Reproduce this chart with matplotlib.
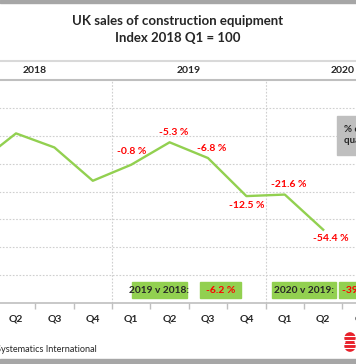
import numpy as np
import matplotlib
matplotlib.use("Agg")
import matplotlib.pyplot as plt
from matplotlib.patches import Rectangle, Circle
from matplotlib.lines import Line2D
from matplotlib.transforms import blended_transform_factory

plt.rcParams['font.family'] = ['Lato', 'DejaVu Sans']

# quarterly index, 2018 Q1 = 100
quarters = ['Q1', 'Q2', 'Q3', 'Q4'] * 3
years = ['2018', '2019', '2020']
index = [100, 121.7, 111.6, 87.7, 99.2, 115.3, 104.0, 76.7, 77.8, 52.6]
yoy_pos = [4, 5, 6, 7, 8, 9]
yoy_txt = ['-0.8 %', '-5.3 %', '-6.8 %', '-12.5 %', '-21.6 %', '-54.4 %']
yoy_off = [(0, 13), (4, 10), (4, 10), (0, -9), (4, 10), (8, -9)]
annual_lbl = ['2019 v 2018:', '2020 v 2019:']
annual_val = ['-6.2 %', '-39.2 %']

GREEN = '#92D050'
RED = '#FF0000'
DARK = '#262626'

fig = plt.figure(figsize=(3.56, 3.64), dpi=100)
W, H = 356.0, 364.0
ax = fig.add_axes([-41.6 / W, 1 - 303 / H, 460.8 / W, 223 / H])
ax.set_xlim(-0.5, 11.5)
ax.set_ylim(0, 160)

# grid
for g in range(20, 160, 20):
    ax.axhline(g, color='#CFCFCF', lw=0.8, ls=(0, (1.5, 1.5)), zorder=1)
for xv in [3.5, 7.5]:
    ax.axvline(xv, color='#CFCFCF', lw=0.8, ls=(0, (1.5, 1.5)), zorder=1)

ax.plot(range(len(index)), index, color=GREEN, lw=1.7, zorder=3)

for p, t, o in zip(yoy_pos, yoy_txt, yoy_off):
    ax.annotate(t, (p, index[p]), xytext=o, textcoords='offset pixels',
                ha='center', va='center', color=RED, fontsize=7.5,
                fontweight='bold', zorder=4)

# spines and ticks
for s in ['left', 'right']:
    ax.spines[s].set_visible(False)
ax.spines['top'].set_color('#BFBFBF')
ax.spines['top'].set_linewidth(1.5)
ax.spines['bottom'].set_color('#BFBFBF')
ax.spines['bottom'].set_linewidth(1.2)
ax.set_yticks([])
ax.set_xticks(np.arange(12))
ax.set_xticklabels(quarters, fontsize=7.5, fontweight='bold', color=DARK)
ax.tick_params(axis='x', length=0, pad=8)
ax.set_xticks(np.arange(-0.5, 12, 1), minor=True)
ax.tick_params(axis='x', which='minor', length=4, color='#BFBFBF', width=1)

# year header
tr = blended_transform_factory(ax.transData, ax.transAxes)
for i, y in enumerate(years):
    ax.text(1.5 + 4 * i, 1 + 10 / 223, y, transform=tr, ha='center',
            va='center', fontsize=7.5, fontweight='bold', color=DARK)
fig.add_artist(Line2D([0, 1], [1 - 61 / H, 1 - 61 / H], color='#D9D9D9', lw=1.5))

# grey key box (cropped on the right)
ax.add_patch(Rectangle((9.36, 106), 2.2, 28, color='#BFBFBF', zorder=2,
                       clip_on=False))
ax.text(9.53, 128, '% change on\nquarter year earlier', fontsize=7,
        fontweight='bold', color=DARK, va='top', ha='left', linespacing=1.3,
        zorder=3)

# annual comparison boxes
for k, (lab, val) in enumerate(zip(annual_lbl, annual_val)):
    x0 = [4.02, 7.67][k]
    w0 = [1.43, 1.66][k]
    x1 = [5.79, 9.41][k]
    ax.add_patch(Rectangle((x0, 3.6), w0, 11.5, color=GREEN, zorder=2))
    ax.text(x0 + w0 / 2, 9.3, lab, ha='center', va='center', fontsize=7.3,
            fontweight='bold', color=DARK, zorder=3)
    ax.add_patch(Rectangle((x1, 3.6), 1.07, 11.5, color=GREEN, zorder=2))
    ax.text(x1 + 0.535, 9.3, val, ha='center', va='center', fontsize=7.5,
            fontweight='bold', color=RED, zorder=3)

# titles
fig.text(0.5, 1 - 21 / H, 'UK sales of construction equipment', ha='center',
         va='center', fontsize=9.5, fontweight='bold', color=DARK)
fig.text(0.5, 1 - 38 / H, 'Index 2018 Q1 = 100', ha='center', va='center',
         fontsize=9.5, fontweight='bold', color=DARK)

# footer
fig.text(97 / W, 1 - 349 / H, 'Systematics International', ha='right',
         va='center', fontsize=6.6, color=DARK)
for cy in [338, 346]:
    fig.add_artist(Circle((350 / W, 1 - cy / H), 5 / W, color='#E8202A',
                          transform=fig.transFigure))
for yy in [336, 340, 344, 348]:
    fig.add_artist(Line2D([343 / W, 356 / W], [1 - yy / H, 1 - yy / H],
                          color='white', lw=0.8))

# border bands
fig.add_artist(Rectangle((0, 1 - 3 / H), 1, 3 / H, color='#A6A6A6',
                         transform=fig.transFigure))
fig.add_artist(Rectangle((0, 0), 1, 5 / H, color='#A6A6A6',
                         transform=fig.transFigure))

fig.savefig('out.png', dpi=100)
